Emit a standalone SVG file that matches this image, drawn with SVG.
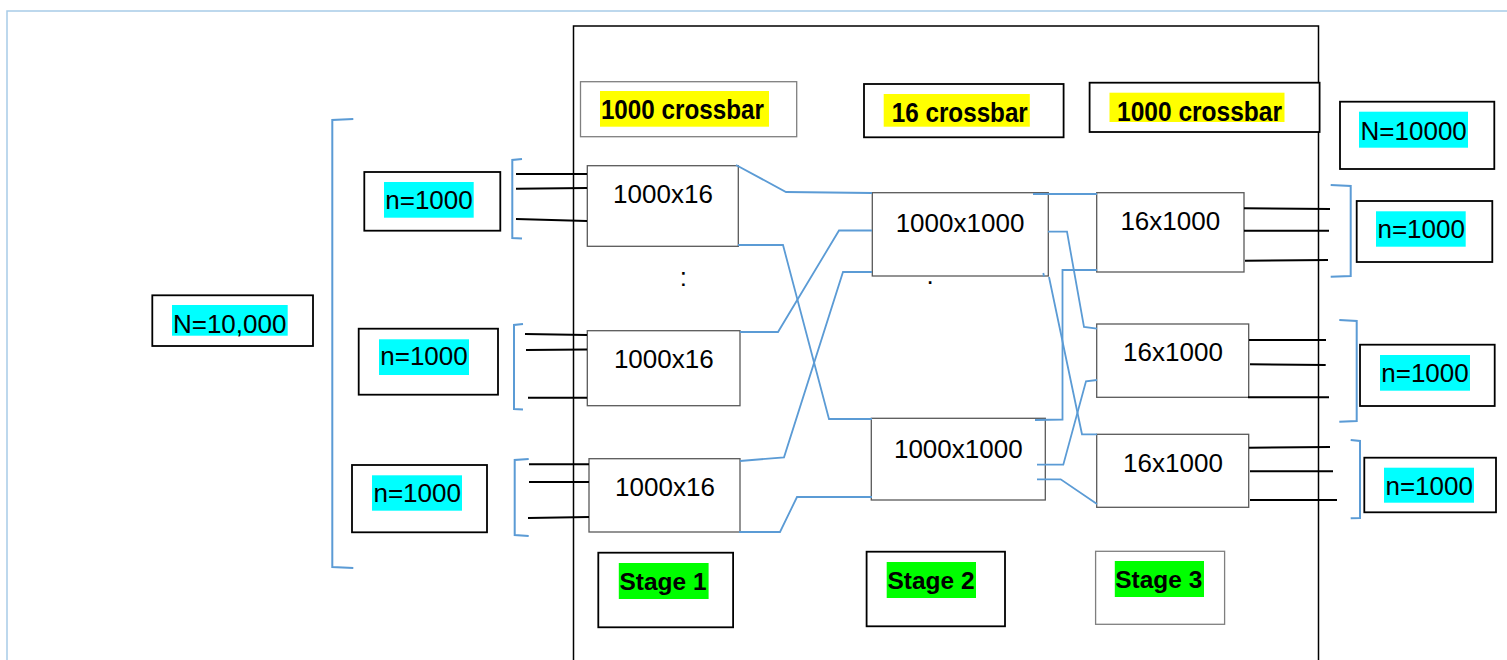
<svg xmlns="http://www.w3.org/2000/svg" width="1507" height="660" viewBox="0 0 1507 660">
<style>
  .t { font-family: "Liberation Sans", Arial, sans-serif; font-size: 26px; fill: #000; text-anchor: middle; }
  .b { font-family: "Liberation Sans", Arial, sans-serif; font-size: 24px; font-weight: bold; fill: #000; text-anchor: middle; }
  .bx { font-family: "Liberation Sans", Arial, sans-serif; font-size: 28px; font-weight: bold; fill: #000; text-anchor: middle; }
  .sw { fill: #fff; stroke: #595959; stroke-width: 1.3; }
  .lbl { fill: #fff; stroke: #000; stroke-width: 1.8; }
  .lblg { fill: #fff; stroke: #7f7f7f; stroke-width: 1.3; }
  .cy { fill: #00ffff; }
  .ye { fill: #ffff00; }
  .gr { fill: #00ff00; }
  .bl { fill: none; stroke: #5b9bd5; stroke-width: 1.8; }
  .br { fill: none; stroke: #5b9bd5; stroke-width: 2; }
  .in { fill: none; stroke: #000; stroke-width: 2; }
</style>
<rect width="1507" height="660" fill="#fff"/>
<g id="outer-border">
  <path d="M7,660 L7,11 L1507,11" fill="none" stroke="#a8cbe8" stroke-width="1.5"/>
</g>
<g id="switch-frame">
  <path d="M573.5,660 L573.5,26 L1318.5,26 L1318.5,660" fill="none" stroke="#000" stroke-width="1.5"/>
</g>

<g id="N-left">
  <rect x="152.3" y="295.3" width="160.7" height="50.7" class="lbl"/>
  <rect x="172" y="305" width="115.7" height="30.7" class="cy"/>
  <text x="229.7" y="332.5" class="t">N=10,000</text>
</g>
<g id="n-left-1">
  <rect x="364.3" y="172" width="136" height="58.7" class="lbl"/>
  <rect x="384" y="182" width="89.7" height="35.7" class="cy"/>
  <text x="429" y="209.3" class="t">n=1000</text>
</g>
<g id="n-left-2">
  <rect x="358.7" y="328.7" width="139.3" height="66" class="lbl"/>
  <rect x="379" y="339.3" width="90" height="35.7" class="cy"/>
  <text x="424" y="365.3" class="t">n=1000</text>
</g>
<g id="n-left-3">
  <rect x="352" y="465" width="135" height="67.3" class="lbl"/>
  <rect x="372" y="475.3" width="90" height="35.4" class="cy"/>
  <text x="417.2" y="502" class="t">n=1000</text>
</g>

<g id="crossbar-1">
  <rect x="580.5" y="81.7" width="216.2" height="55" class="lblg"/>
  <rect x="600" y="91" width="169" height="35.7" class="ye"/>
  <text x="682.4" y="119.3" class="bx" textLength="163" lengthAdjust="spacingAndGlyphs">1000 crossbar</text>
</g>
<g id="crossbar-2">
  <rect x="864" y="84" width="199.6" height="53.3" class="lbl"/>
  <rect x="883.7" y="94" width="146.1" height="32.7" class="ye"/>
  <text x="959.8" y="122" class="bx" textLength="136" lengthAdjust="spacingAndGlyphs">16 crossbar</text>
</g>
<g id="crossbar-3">
  <rect x="1089.6" y="82.7" width="230" height="49.3" class="lbl"/>
  <rect x="1109.5" y="92.7" width="175" height="29.3" class="ye"/>
  <text x="1199.5" y="120.5" class="bx" textLength="165" lengthAdjust="spacingAndGlyphs">1000 crossbar</text>
</g>
<g id="N-right">
  <rect x="1340" y="101.7" width="154.3" height="67.3" class="lbl"/>
  <rect x="1359" y="111.7" width="109" height="36" class="cy"/>
  <text x="1413.7" y="140" class="t">N=10000</text>
</g>

<g id="s1-a">
  <rect x="587.3" y="165.7" width="151" height="80.6" class="sw"/>
  <text x="663" y="203" class="t">1000x16</text>
</g>
<g id="s1-b">
  <rect x="587.3" y="330.7" width="152.7" height="75" class="sw"/>
  <text x="663.8" y="368" class="t">1000x16</text>
</g>
<g id="s1-c">
  <rect x="589" y="458.7" width="151" height="73.3" class="sw"/>
  <text x="665" y="496" class="t">1000x16</text>
</g>
<g id="s2-a">
  <rect x="872.3" y="192.7" width="176" height="83.3" class="sw"/>
  <text x="960" y="232" class="t">1000x1000</text>
</g>
<g id="s2-b">
  <rect x="871.3" y="418.3" width="174" height="81.7" class="sw"/>
  <text x="958.3" y="458" class="t">1000x1000</text>
</g>
<g id="s3-a">
  <rect x="1096.7" y="192.7" width="147.3" height="79.3" class="sw"/>
  <text x="1170.3" y="230" class="t">16x1000</text>
</g>
<g id="s3-b">
  <rect x="1096.7" y="324" width="152" height="73.3" class="sw"/>
  <text x="1173" y="360.5" class="t">16x1000</text>
</g>
<g id="s3-c">
  <rect x="1096.7" y="434.3" width="152" height="73" class="sw"/>
  <text x="1173" y="471.5" class="t">16x1000</text>
</g>

<g id="n-right-1">
  <rect x="1356.7" y="201" width="135.6" height="61" class="lbl"/>
  <rect x="1376" y="211.3" width="89.7" height="35.4" class="cy"/>
  <text x="1421.2" y="238.2" class="t">n=1000</text>
</g>
<g id="n-right-2">
  <rect x="1360" y="344.7" width="134.7" height="61.3" class="lbl"/>
  <rect x="1380" y="355" width="90" height="35.7" class="cy"/>
  <text x="1425" y="382.2" class="t">n=1000</text>
</g>
<g id="n-right-3">
  <rect x="1364.3" y="457.7" width="131.7" height="54.6" class="lbl"/>
  <rect x="1384" y="467.7" width="90" height="35" class="cy"/>
  <text x="1429.2" y="495" class="t">n=1000</text>
</g>

<g id="stage-1">
  <rect x="598.3" y="552.7" width="134.8" height="74.6" class="lbl"/>
  <rect x="618.8" y="563" width="89.8" height="36" class="gr"/>
  <text x="663" y="590" class="b" textLength="87" lengthAdjust="spacingAndGlyphs">Stage 1</text>
</g>
<g id="stage-2">
  <rect x="866.6" y="551.7" width="138.4" height="74.6" class="lbl"/>
  <rect x="886.7" y="562" width="89.3" height="36" class="gr"/>
  <text x="931" y="588.5" class="b" textLength="87" lengthAdjust="spacingAndGlyphs">Stage 2</text>
</g>
<g id="stage-3">
  <rect x="1095.6" y="551.3" width="129" height="73" class="lblg"/>
  <rect x="1114.8" y="561" width="89.2" height="36" class="gr"/>
  <text x="1158.8" y="587.7" class="b" textLength="87" lengthAdjust="spacingAndGlyphs">Stage 3</text>
</g>

<g id="ellipses">
  <text x="683.3" y="285.5" class="t">:</text>
  <text x="930" y="284" class="t">.</text>
</g>

<g id="connectors">
  <path class="br" d="M353.3,119 L332.3,120 L332.3,567 L353.3,568"/>
  <path class="br" d="M522,159 L512.3,160 L512.3,238 L522,238.5"/>
  <path class="br" d="M523,324 L514,325 L514,409 L523,409.5"/>
  <path class="br" d="M528.7,459 L514.7,460 L514.7,535 L528.7,536"/>
  <path class="br" d="M1330.7,185 L1350.7,186 L1350.7,276 L1330.7,276.7"/>
  <path class="br" d="M1339.3,320 L1356.7,321 L1356.7,421 L1339.3,421.7"/>
  <path class="br" d="M1350.7,440 L1360,441 L1360,518 L1350.7,518.3"/>
  <path class="in" d="M516,174 L587,174 M516,188.7 L587,188 M516,219 L587,221"/>
  <path class="in" d="M525,334 L587,335 M526,350 L587,349.5 M528,397.7 L587,397.7"/>
  <path class="in" d="M529,464.3 L589,464.3 M529,482 L589,482 M528,518 L589,517"/>
  <path class="in" d="M1244,208.3 L1330,209 M1244,230.7 L1329,230.7 M1245,260.7 L1328,260"/>
  <path class="in" d="M1249,340 L1326,340 M1250,364.3 L1325.7,365"/>
  <path class="in" d="M1248,397.3 L1329,397.3" stroke-width="3"/>
  <path class="in" d="M1249,447.7 L1330,447 M1250,471.3 L1333,471.3 M1250,500 L1337,500"/>
  <path class="bl" d="M736,165 L786,192 L872,193"/>
  <path class="bl" d="M738,245 L783,245 L829,419 L872,419"/>
  <path class="bl" d="M740,332 L778,332 L839,230.5 L872,230.5"/>
  <path class="bl" d="M740,461 L784,457.3 L843,272 L872,272"/>
  <path class="bl" d="M739,532 L780,532 L797,497 L872,497"/>
  <path class="bl" d="M1033,194 L1097,194"/>
  <path class="bl" d="M1048,231.7 L1067,231.7 L1084,327 L1097,328.7"/>
  <path class="bl" d="M1043.3,273 L1044,276.5"/>
  <path class="bl" d="M1049,277 L1082,434.3 L1097,434.3"/>
  <path class="bl" d="M1035,420 L1062.5,419.5 L1062.5,270 L1097,270"/>
  <path class="bl" d="M1037,464.7 L1063.3,464.7 L1086,381.3 L1097,380"/>
  <path class="bl" d="M1037,479.3 L1060.7,479.3 L1097,504"/>
</g>
</svg>
